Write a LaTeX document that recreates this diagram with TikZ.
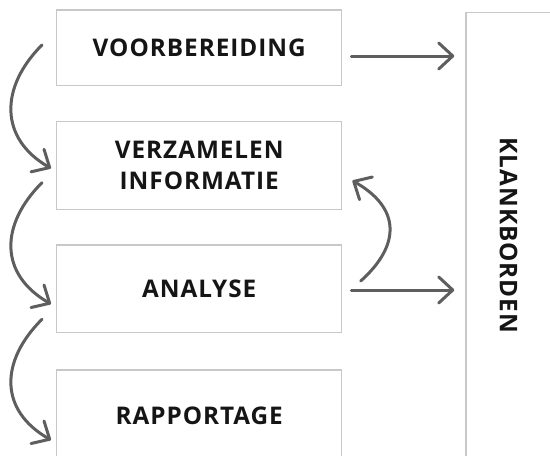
\documentclass[tikz,border=0pt]{standalone}
\usepackage{fontspec}
\setmainfont{Open Sans}[LetterSpace=4]
\usetikzlibrary{arrows.meta,calc}
\definecolor{boxgray}{HTML}{C8C8C8}
\definecolor{arrowgray}{HTML}{5E5E5E}
\definecolor{txt}{HTML}{151515}
\begin{document}
\begin{tikzpicture}[x=1pt,y=-1pt,
  box/.style={draw=boxgray, line width=1.5pt, minimum width=285pt, inner sep=0pt,
    text=txt, font=\bfseries\fontsize{24.3}{30.5}\selectfont, align=center, text depth=0pt},
  flow/.style={draw=arrowgray, line width=3pt, line cap=round,
    -{Straight Barb[length=14pt,width=26pt,line cap=round,line join=round]}}]
\useasboundingbox (0,0) rectangle (550,456);
\clip (0,0) rectangle (550,456);
\node[box, minimum height=75.7pt] (b1) at (199.2,47.85) {VOORBEREIDING};
\node[box, minimum height=87.6pt] (b2) at (199.2,165.5) {VERZAMELEN\\INFORMATIE};
\node[box, minimum height=87.7pt] (b3) at (199.2,288.85) {ANALYSE};
\node[box, minimum height=91.4pt] (b4) at (199.2,415.7) {RAPPORTAGE};
\node[box, rotate=-90, minimum width=445.6pt, minimum height=85.6pt] (kb) at (508.8,235.5) {KLANKBORDEN};
% straight arrows to Klankborden
\draw[flow] ($(b1.east)+(9,8.15)$) -- ($(b1.east -| kb.south)+(-11,8.15)$);
\draw[flow] ($(b3.east)+(9,1.15)$) -- ($(b3.east -| kb.south)+(-11,1.15)$);
% feedback arrow
\draw[flow] ($(b3.east)+(18.3,-7.85)$) .. controls +(40,-36) and +(48.3,27.3) .. ($(b2.east)+(10,15.2)$);
% left flow arrows
\draw[flow] ($(b1.west)+(-14,-2.85)$) .. controls +(-42,42) and +(-52,-30) .. ($(b2.west)+(-5,2.8)$);
\draw[flow] ($(b2.west)+(-14,17.2)$) .. controls +(-42,42) and +(-52,-30) .. ($(b3.west)+(-5,15.15)$);
\draw[flow] ($(b3.west)+(-14,30.45)$) .. controls +(-42,42) and +(-52,-30) .. ($(b4.west)+(-5,24.3)$);
\end{tikzpicture}
\end{document}
